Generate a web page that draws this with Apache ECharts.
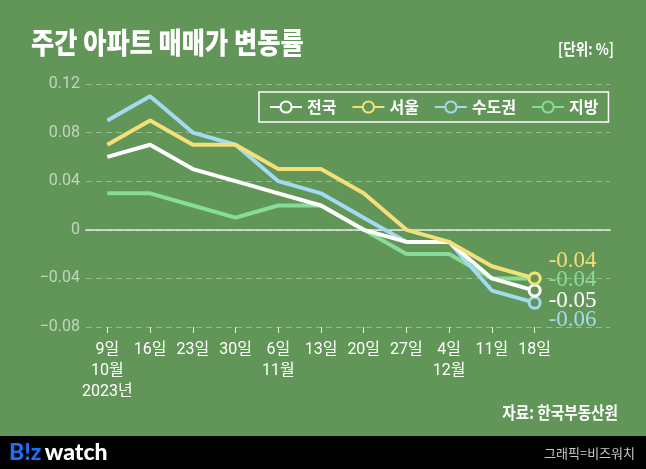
<!DOCTYPE html>
<html><head><meta charset="utf-8">
<script src="https://cdn.jsdelivr.net/npm/echarts@6/dist/echarts.min.js"></script>
<style>html,body{margin:0;padding:0;background:#629659;}#c{width:646px;height:469px;}</style>
</head><body><div id="c"></div>
<script>
const days = ['9일','16일','23일','30일','6일','13일','20일','27일','4일','11일','18일'];
const monthRow = ['10월','','','','11월','','','','12월','',''];
const yearRow = ['2023년','','','','','','','','','',''];
const nation = [0.06,0.07,0.05,0.04,0.03,0.02,0,-0.01,-0.01,-0.04,-0.05];
const seoul = [0.07,0.09,0.07,0.07,0.05,0.05,0.03,0,-0.01,-0.03,-0.04];
const capital = [0.09,0.11,0.08,0.07,0.04,0.03,0.01,-0.01,-0.01,-0.05,-0.06];
const local = [0.03,0.03,0.02,0.01,0.02,0.02,0,-0.02,-0.02,-0.04,-0.04];
const yTicks = [-0.08,-0.04,0,0.04,0.08,0.12];

const BG = '#629659';
const categories = days.map((d,i)=>[d,monthRow[i],yearRow[i]].filter(s=>s).join('\n'));

function mk(name, vals, color, z, dy){
  const last = vals.length-1;
  return {
    name, type:'line', xAxisIndex:1, yAxisIndex:1, z,
    symbol:'circle', symbolSize:11, showAllSymbol:true,
    lineStyle:{width:4,color},
    itemStyle:{color:BG,borderColor:color,borderWidth:3},
    emphasis:{disabled:true},
    data: vals.map((v,i)=> i===last ? {
      value:v,
      label:{show:true,position:'right',distance:7,offset:[0,dy],
        formatter:p=>p.value.toFixed(2),
        color, fontFamily:'"Liberation Serif"', fontSize:23}
    } : {value:v, symbol:'none'})
  };
}

const chart = echarts.init(document.getElementById('c'));
chart.setOption({
  animation:false,
  backgroundColor:BG,
  grid:[
    {left:86,right:36,top:84,bottom:142},
    {left:86,right:90,top:84,bottom:142}
  ],
  xAxis:[
    {gridIndex:0,type:'value',min:0,max:1,axisLabel:{show:false},axisTick:{show:false},splitLine:{show:false},
      axisLine:{show:true,onZero:true,lineStyle:{color:'rgba(255,255,255,0.6)',width:2}}},
    {gridIndex:1,type:'category',data:categories,boundaryGap:true,
      axisLine:{show:false,onZero:false},
      axisTick:{show:true,alignWithLabel:true,length:6,lineStyle:{color:'rgba(255,255,255,0.85)',width:1}},
      axisLabel:{color:'#ffffff',fontSize:16,lineHeight:21,margin:12,interval:0,fontFamily:'Roboto, "Noto Sans CJK KR"'},
      splitLine:{show:false}}
  ],
  yAxis:[
    {gridIndex:0,type:'value',min:yTicks[0],max:yTicks[yTicks.length-1],interval:0.04,
      axisLine:{show:false},axisTick:{show:false},
      axisLabel:{margin:6,fontSize:16,color:'rgba(255,255,255,0.6)',fontFamily:'Roboto',
        formatter:v=>{ if(Math.abs(v)<1e-9) return '0'; return v.toFixed(2).replace('-','\u2212'); }},
      splitLine:{show:true,lineStyle:{type:[6,4],color:'rgba(255,255,255,0.35)',width:1}}},
    {gridIndex:1,type:'value',min:yTicks[0],max:yTicks[yTicks.length-1],interval:0.04,show:false,splitLine:{show:false}}
  ],
  legend:{
    data:['전국','서울','수도권','지방'],
    left:259, top:92, orient:'horizontal',
    borderColor:'#ffffff', borderWidth:1.5, padding:[7,10],
    itemWidth:32, itemHeight:14, itemGap:15,
    textStyle:{color:'#ffffff',fontSize:16,fontWeight:'bold',fontFamily:'"Noto Sans CJK KR"'}
  },
  series:[
    mk('전국',nation,'#ffffff',4,10),
    mk('서울',seoul,'#f4df78',5,-17),
    mk('수도권',capital,'#a4d9f2',3,17),
    mk('지방',local,'#86dc98',2,2)
  ],
  graphic:[
    {type:'text',x:31,y:43,scaleX:0.87,style:{text:'주간 아파트 매매가 변동률',fill:'#ffffff',
      font:'900 29px "Noto Sans CJK KR"',textVerticalAlign:'middle',textAlign:'left'}},
    {type:'text',x:614,y:49,scaleX:0.85,style:{text:'[단위: %]',fill:'#ffffff',
      font:'bold 16px "Noto Sans CJK KR"',textVerticalAlign:'middle',textAlign:'right'}},
    {type:'text',x:618,y:413,scaleX:0.86,style:{text:'자료: 한국부동산원',fill:'#ffffff',
      font:'bold 17px "Noto Sans CJK KR"',textVerticalAlign:'middle',textAlign:'right'}},
    {type:'rect',shape:{x:0,y:436,width:646,height:33},style:{fill:'#000000'}},
    {type:'text',x:9,y:453,style:{rich:{b:{fill:'#1e6ff0',font:'900 23px Lato'},w:{fill:'#ffffff',font:'900 23px Lato'}},
      text:'{b|B!z} {w|watch}',textVerticalAlign:'middle'}},
    {type:'text',x:635,y:453,style:{text:'그래픽=비즈워치',fill:'#c8c8c8',
      font:'13px "Noto Sans CJK KR"',textVerticalAlign:'middle',textAlign:'right'}}
  ]
});
</script></body></html>
